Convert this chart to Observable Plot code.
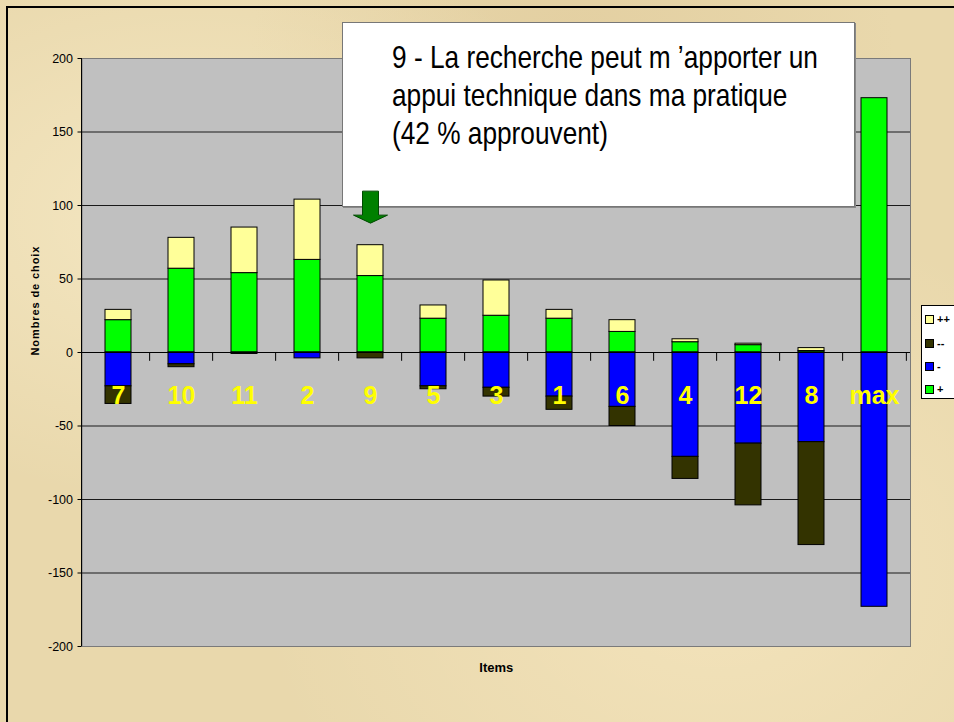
<!DOCTYPE html>
<html>
<head>
<meta charset="utf-8">
<script src="https://cdn.jsdelivr.net/npm/d3@7"></script>
<script src="https://cdn.jsdelivr.net/npm/@observablehq/plot@0.6"></script>
<style>
  html, body { margin: 0; padding: 0; width: 954px; height: 722px; overflow: hidden; }
  body { background: #e9d8ac; font-family: "Liberation Sans", Arial, sans-serif; }
  #wrap { position: relative; width: 954px; height: 722px; overflow: hidden;
    background:
      radial-gradient(ellipse at 20% 30%, rgba(255,245,215,0.5), rgba(255,245,215,0) 40%),
      radial-gradient(ellipse at 75% 80%, rgba(255,240,205,0.45), rgba(255,240,205,0) 45%),
      radial-gradient(ellipse at 60% 10%, rgba(215,190,140,0.35), rgba(215,190,140,0) 40%),
      #e9d8ac; }
  #border { position: absolute; left: 6px; top: 6px; width: 1000px; height: 800px;
    border-left: 2px solid #000; border-top: 2px solid #000; box-sizing: border-box; }
  #chart, #overlay { position: absolute; left: 0; top: 0; }
  #overlay { pointer-events: none; }
  #chart svg, #overlay svg { background: transparent !important; }
  #note { position: absolute; left: 342px; top: 22px; width: 513px; height: 185px; box-sizing: border-box;
    background: #fff; border: 1px solid #777; box-shadow: 1px 1px 0 #888;
    padding: 15px 0 0 49px; font-size: 32px; line-height: 38px; color: #000; white-space: nowrap; }
  #note .inner { transform-origin: 0 0; }
  #legend { position: absolute; left: 921px; top: 305px; width: 60px; height: 94px; box-sizing: border-box;
    background: #fff; border: 1px solid #000; }
  #legend .row { position: absolute; left: 3px; width: 50px; height: 12px; font-size: 11px; font-weight: bold; line-height: 12px; white-space: nowrap; }
  #legend .sw { position: absolute; left: 0; top: 2px; width: 7px; height: 7px; border: 1px solid #000; box-sizing: content-box; }
  #legend .lb { position: absolute; left: 12px; top: 0; white-space: nowrap; }
</style>
</head>
<body>
<div id="wrap">
  <div id="chart"></div>
  <div id="note"><div class="inner"></div></div>
  <div id="overlay"></div>
  <div id="legend"></div>
  <div id="border"></div>
</div>
<script>
// ---- data ----
const items = ["7", "10", "11", "2", "9", "5", "3", "1", "6", "4", "12", "8", "max"];
const plusPlus   = [7, 21, 31, 41, 21, 9, 24, 6, 8, 2, 1, 2, 0];
const plus       = [22, 57, 54, 63, 52, 23, 25, 23, 14, 7, 5, 1, 173];
const minus      = [-23, -8, 0, -4, 0, -23, -24, -30, -37, -71, -62, -61, -173];
const minusMinus = [-12, -2, -1, 0, -4, -2, -6, -9, -13, -15, -42, -70, 0];
const seriesOrder = ["+", "++", "-", "--"];
const legendOrder = ["++", "--", "-", "+"];
const seriesColors = {"+": "#00ff00", "++": "#ffff99", "-": "#0000ff", "--": "#333300"};
const yTicks = [-200, -150, -100, -50, 0, 50, 100, 150, 200];
const gridLines = [-150, -100, -50, 50, 100, 150];
const highlighted = "9";
const noteLines = ["9 - La recherche peut m \u2019apporter un", "appui technique dans ma pratique", "(42 % approuvent)"];
const yLabel = "Nombres de choix";
const xLabel = "Items";

// ---- font detection (narrow) ----
function hasFont(name) {
  const c = document.createElement("canvas").getContext("2d");
  const s = "mmmmmmmmmmlli 9 - La recherche";
  c.font = "32px monospace"; const w0 = c.measureText(s).width;
  c.font = `32px "${name}", monospace`; const w1 = c.measureText(s).width;
  return w0 !== w1;
}
const narrowOK = hasFont("Liberation Sans Narrow");
const narrowFamily = narrowOK ? '"Liberation Sans Narrow", "Arial Narrow", sans-serif' : '"Liberation Sans", Arial, sans-serif';

// ---- table ----
const valuesBySeries = {"+": plus, "++": plusPlus, "-": minus, "--": minusMinus};
const data = [];
items.forEach((item, i) => {
  for (const s of seriesOrder) {
    const v = valuesBySeries[s][i];
    if (v !== 0) data.push({item, series: s, value: v});
  }
});
const hi = items.indexOf(highlighted);
const arrowData = [{item: highlighted, tip: plus[hi] + plusPlus[hi] + 15}];

const arrowSymbol = {
  draw(ctx) {
    ctx.moveTo(-8, -32); ctx.lineTo(8, -32); ctx.lineTo(8, -8); ctx.lineTo(17, -8);
    ctx.lineTo(0, 0); ctx.lineTo(-17, -8); ctx.lineTo(-8, -8); ctx.closePath();
  }
};

const W = 954, H = 722, mL = 81.5, mR = 44, mT = 58, mB = 76;
const step = (W - mL - mR) / items.length;
const common = {
  width: W, height: H,
  marginLeft: mL, marginRight: mR, marginTop: mT, marginBottom: mB,
  style: {background: "transparent", fontFamily: '"Liberation Sans", Arial, sans-serif', color: "#000"},
  x: {domain: items, paddingInner: 0.59, paddingOuter: 0.295, axis: null, label: null},
  y: {domain: [-200, 200], axis: null, label: null}
};

const chart = Plot.plot({
  ...common,
  color: {domain: seriesOrder, range: seriesOrder.map(s => seriesColors[s])},
  marks: [
    Plot.frame({fill: "#c0c0c0", stroke: "#7a7a7a"}),
    Plot.ruleY(gridLines, {stroke: "#1a1a1a", strokeWidth: 1}),
    Plot.barY(data, {x: "item", y: "value", fill: "series", order: seriesOrder, stroke: "#000", strokeWidth: 1}),
    Plot.ruleY([0], {stroke: "#000", strokeWidth: 1}),
    Plot.ruleX(items.slice(1), {x: d => d, y1: 0, y2: -6, dx: -step / 2, stroke: "#000"}),
    Plot.ruleX(items.slice(-1), {x: d => d, y1: 0, y2: -6, dx: step / 2, stroke: "#000"}),
    Plot.axisY({ticks: yTicks, label: null, tickSize: 4, tickPadding: 5, fontSize: 12.5, tickFormat: d => String(d), stroke: "#000", fill: "#000"}),
    Plot.text(items, {x: d => d, y: 0, dy: 43, text: d => d, fill: "#ffff00", fontWeight: "bold", fontSize: 25, fontFamily: narrowFamily}),
    Plot.text([yLabel], {frameAnchor: "left", dx: -46.5, dy: 3, rotate: -90, fontWeight: "bold", fontSize: 11, fill: "#000"}),
    Plot.text([xLabel], {frameAnchor: "bottom", dy: 25, fontWeight: "bold", fontSize: 13, fill: "#000"})
  ]
});
document.getElementById("chart").appendChild(chart);

// arrow drawn above the note box, with the same scales
const overlay = Plot.plot({
  ...common,
  marks: [
    Plot.dot(arrowData, {x: "item", y: "tip", symbol: arrowSymbol, r: 10, fill: "#008000", stroke: "#004a00", strokeWidth: 1})
  ]
});
document.getElementById("overlay").appendChild(overlay);

// left axis line
d3.select(chart).append("line")
  .attr("x1", mL).attr("x2", mL).attr("y1", mT).attr("y2", H - mB)
  .attr("stroke", "#000").attr("stroke-width", 1);

// letter-spacing on y label
d3.select(chart).selectAll("text").filter(function () { return this.textContent === yLabel; })
  .style("letter-spacing", "0.9px");

// condensed fallback for yellow labels
if (!narrowOK) {
  d3.select(chart).selectAll("text").filter(function () { return items.includes(this.textContent) && this.getAttribute("fill") === "#ffff00"; })
    .each(function () {
      const t = d3.select(this);
      const tr = t.attr("transform") || "";
      t.attr("transform", tr + " scale(0.82,1)");
    });
}

// note box
const inner = document.querySelector("#note .inner");
inner.style.fontFamily = narrowFamily;
if (!narrowOK) inner.style.transform = "scaleX(0.82)";
noteLines.forEach(l => { const d = document.createElement("div"); d.textContent = l; inner.appendChild(d); });

// legend
const leg = document.getElementById("legend");
const rowTops = [7, 31, 54, 77];
legendOrder.forEach((s, i) => {
  const r = document.createElement("div");
  r.className = "row"; r.style.top = rowTops[i] + "px";
  const sw = document.createElement("span"); sw.className = "sw"; sw.style.background = seriesColors[s];
  const lb = document.createElement("span"); lb.className = "lb"; lb.textContent = s;
  r.appendChild(sw); r.appendChild(lb); leg.appendChild(r);
});
</script>
</body>
</html>
